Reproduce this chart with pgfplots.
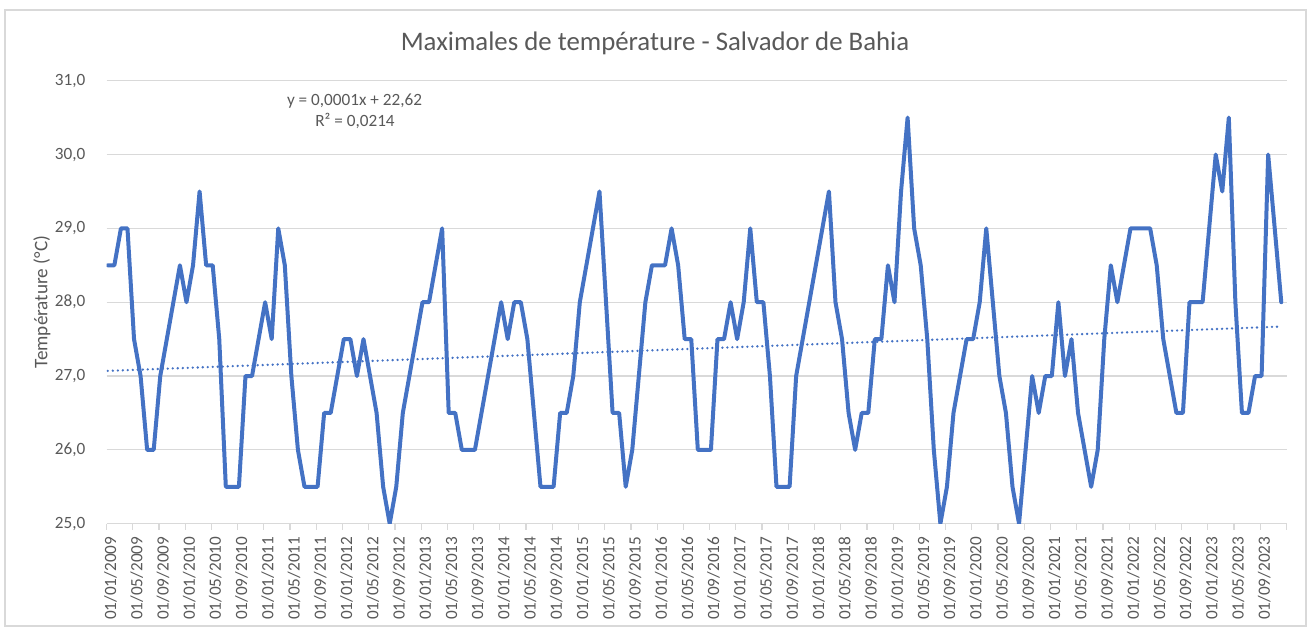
\documentclass[border=0pt]{standalone}
\usepackage{fontspec}
\setmainfont{Carlito}
\usepackage{pgfplots}
\pgfplotsset{compat=1.18}
\usepackage{pgfplotstable}
\definecolor{txt}{HTML}{595959}
\definecolor{grd}{HTML}{D9D9D9}
\definecolor{ser}{HTML}{4472C4}

\pgfplotstableread{
m t
0 28.5
1 28.5
2 29.0
3 29.0
4 27.5
5 27.0
6 26.0
7 26.0
8 27.0
9 27.5
10 28.0
11 28.5
12 28.0
13 28.5
14 29.5
15 28.5
16 28.5
17 27.5
18 25.5
19 25.5
20 25.5
21 27.0
22 27.0
23 27.5
24 28.0
25 27.5
26 29.0
27 28.5
28 27.0
29 26.0
30 25.5
31 25.5
32 25.5
33 26.5
34 26.5
35 27.0
36 27.5
37 27.5
38 27.0
39 27.5
40 27.0
41 26.5
42 25.5
43 25.0
44 25.5
45 26.5
46 27.0
47 27.5
48 28.0
49 28.0
50 28.5
51 29.0
52 26.5
53 26.5
54 26.0
55 26.0
56 26.0
57 26.5
58 27.0
59 27.5
60 28.0
61 27.5
62 28.0
63 28.0
64 27.5
65 26.5
66 25.5
67 25.5
68 25.5
69 26.5
70 26.5
71 27.0
72 28.0
73 28.5
74 29.0
75 29.5
76 28.0
77 26.5
78 26.5
79 25.5
80 26.0
81 27.0
82 28.0
83 28.5
84 28.5
85 28.5
86 29.0
87 28.5
88 27.5
89 27.5
90 26.0
91 26.0
92 26.0
93 27.5
94 27.5
95 28.0
96 27.5
97 28.0
98 29.0
99 28.0
100 28.0
101 27.0
102 25.5
103 25.5
104 25.5
105 27.0
106 27.5
107 28.0
108 28.5
109 29.0
110 29.5
111 28.0
112 27.5
113 26.5
114 26.0
115 26.5
116 26.5
117 27.5
118 27.5
119 28.5
120 28.0
121 29.5
122 30.5
123 29.0
124 28.5
125 27.5
126 26.0
127 25.0
128 25.5
129 26.5
130 27.0
131 27.5
132 27.5
133 28.0
134 29.0
135 28.0
136 27.0
137 26.5
138 25.5
139 25.0
140 26.0
141 27.0
142 26.5
143 27.0
144 27.0
145 28.0
146 27.0
147 27.5
148 26.5
149 26.0
150 25.5
151 26.0
152 27.5
153 28.5
154 28.0
155 28.5
156 29.0
157 29.0
158 29.0
159 29.0
160 28.5
161 27.5
162 27.0
163 26.5
164 26.5
165 28.0
166 28.0
167 28.0
168 29.0
169 30.0
170 29.5
171 30.5
172 28.0
173 26.5
174 26.5
175 27.0
176 27.0
177 30.0
178 29.0
179 28.0
}\tmax

\pgfplotstableread{
m t
0 27.07
179 27.67
}\ttrend

\begin{document}
\begin{tikzpicture}
\begin{axis}[
  at={(0,0)}, anchor=south west,
  scale only axis, width=590pt, height=221.5pt,
  xmin=0, xmax=180, ymin=25, ymax=31,
  xtick={0,4,...,180},
  xticklabels={01/01/2009,01/05/2009,01/09/2009,01/01/2010,01/05/2010,01/09/2010,01/01/2011,01/05/2011,01/09/2011,01/01/2012,01/05/2012,01/09/2012,01/01/2013,01/05/2013,01/09/2013,01/01/2014,01/05/2014,01/09/2014,01/01/2015,01/05/2015,01/09/2015,01/01/2016,01/05/2016,01/09/2016,01/01/2017,01/05/2017,01/09/2017,01/01/2018,01/05/2018,01/09/2018,01/01/2019,01/05/2019,01/09/2019,01/01/2020,01/05/2020,01/09/2020,01/01/2021,01/05/2021,01/09/2021,01/01/2022,01/05/2022,01/09/2022,01/01/2023,01/05/2023,01/09/2023,{}},
  ytick={25,26,...,31},
  ymajorgrids,
  major grid style={draw=grd, line width=0.6pt},
  axis line style={draw=none},
  xtick pos=bottom,
  tick align=outside,
  major tick length=3pt,
  xtick style={draw=grd, line width=0.6pt},
  ytick style={draw=none},
  /pgf/number format/assume math mode=true,
  yticklabel style={/pgf/number format/fixed, /pgf/number format/fixed zerofill, /pgf/number format/precision=1, /pgf/number format/use comma, font=\fontsize{8.6}{10}\selectfont, text=txt, xshift=-4pt},
  xticklabel style={xshift=2pt, rotate=90, anchor=east, font=\fontsize{8.6}{10}\selectfont, text=txt},
  ylabel={Température (°C)},
  every axis y label/.style={at={(axis description cs:-0.0547,0.5)}, rotate=90, anchor=center, font=\fontsize{9.6}{11}\selectfont, text=txt},
]
\addplot[ser, line width=2pt, line join=round, line cap=round] table[x expr=\thisrow{m}+0.2, y=t] {\tmax};
\addplot[ser, line width=1.3pt, line cap=round, dash pattern=on 0pt off 2.5pt] table[x expr=\thisrow{m}+0.2, y=t] {\ttrend};
\end{axis}
\node[font=\fontsize{13.4}{16}\selectfont, text=txt] at (274.25pt,240.05pt) {Maximales de température - Salvador de Bahia};
\node[anchor=base, font=\fontsize{8.6}{10}\selectfont, text=txt] at (124pt,208.85pt) {y = 0,0001x + 22,62};
\node[anchor=base, font=\fontsize{8.6}{10}\selectfont, text=txt] at (124.25pt,198.5pt) {R² = 0,0214};
\draw[grd, line width=0.6pt] (-50.75pt,-51.15pt) rectangle (599.75pt,256.85pt);
\pgfresetboundingbox
\useasboundingbox (-53.25pt,-51.65pt) rectangle (601.25pt,261.85pt);
\end{tikzpicture}
\end{document}
